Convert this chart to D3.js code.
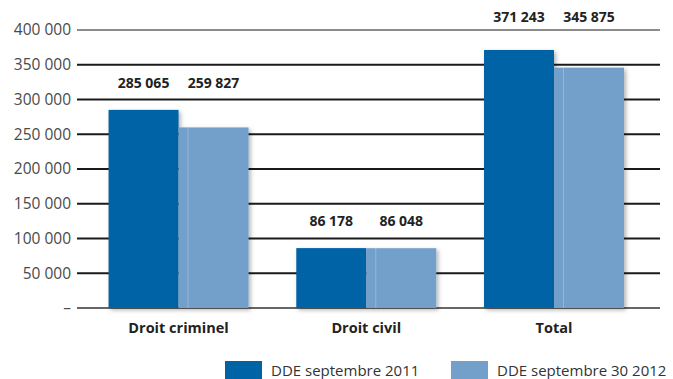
<!DOCTYPE html>
<html><head><meta charset="utf-8">
<script src="https://cdn.jsdelivr.net/npm/d3@7"></script>
<style>body{margin:0;background:#fff}svg{display:block}text{font-family:"Open Sans",sans-serif}</style>
</head><body><svg id="c" width="673" height="379"></svg>
<script>
const categories = ["Droit criminel", "Droit civil", "Total"];
const seriesNames = ["DDE septembre 2011", "DDE septembre 30 2012"];
const values2011 = [285065, 86178, 371243];
const values2012 = [259827, 86048, 345875];
const yTicks = [0, 50000, 100000, 150000, 200000, 250000, 300000, 350000, 400000];
const colors = ["#0063a6", "#72a0ca"];

const svg = d3.select("#c");
const fmt = v => v === 0 ? "–" : d3.format(",")(v).replace(/,/g, " ");

const y = d3.scaleLinear().domain([0, 400000]).range([308, 30]);
const x0 = d3.scaleBand().domain(categories).range([77, 660]).paddingInner(0.2543).paddingOuter(0.18).align(0.467);
const x1 = d3.scaleBand().domain(seriesNames).range([0, x0.bandwidth()]).padding(0);

const defs = svg.append("defs");
const f = defs.append("filter").attr("id", "sh").attr("x", "-10%").attr("y", "-10%").attr("width", "130%").attr("height", "130%");
f.append("feDropShadow").attr("dx", 2).attr("dy", 2).attr("stdDeviation", 2).attr("flood-color", "#000").attr("flood-opacity", 0.3);

// gridlines
const gx0 = 77, gx1 = 660;
svg.append("g").selectAll("line").data(yTicks).join("line")
  .attr("x1", gx0).attr("x2", gx1)
  .attr("y1", d => y(d)).attr("y2", d => y(d))
  .attr("stroke", d => (d === 0 || d === 400000) ? "#666" : "#1a1a1a")
  .attr("stroke-width", d => d === 400000 ? 1.3 : 2);

// y labels
svg.append("g").selectAll("text").data(yTicks).join("text")
  .attr("x", 71).attr("y", d => y(d)).attr("dy", "0.35em")
  .attr("text-anchor", "end").attr("fill", "#4a4a4a").attr("font-size", 15.5)
  .text(fmt);

const data = categories.map((c, i) => ({cat: c, vals: [values2011[i], values2012[i]]}));

const groups = svg.append("g").selectAll("g").data(data).join("g")
  .attr("transform", d => `translate(${x0(d.cat)},0)`);

groups.selectAll("rect.bar").data(d => d.vals.map((v, j) => ({v, s: seriesNames[j], j}))).join("rect")
  .attr("class", "bar")
  .attr("x", d => x1(d.s)).attr("width", x1.bandwidth())
  .attr("y", d => y(d.v)).attr("height", d => y(0) - y(d.v))
  .attr("fill", d => colors[d.j]).attr("filter", "url(#sh)");

// subtle highlight stripe in light bars
groups.selectAll("rect.hl").data(d => [{v: d.vals[1], s: seriesNames[1]}]).join("rect")
  .attr("class", "hl")
  .attr("x", d => x1(d.s) + 9).attr("width", 1)
  .attr("y", d => y(d.v)).attr("height", d => y(0) - y(d.v))
  .attr("fill", "#fff").attr("opacity", 0.25);

// value labels
groups.each(function(d) {
  const m = d3.max(d.vals);
  let ly = y(m) - 22;
  if (ly < y(400000)) ly = y(400000) - 8;
  d3.select(this).selectAll("text.val").data(d.vals.map((v, j) => ({v, s: seriesNames[j]}))).join("text")
    .attr("class", "val")
    .attr("x", e => x1(e.s) + x1.bandwidth() / 2).attr("y", ly)
    .attr("text-anchor", "middle").attr("font-weight", "bold").attr("font-size", 14).attr("fill", "#222")
    .text(e => fmt(e.v));
});

// category labels
svg.append("g").selectAll("text").data(categories).join("text")
  .attr("x", d => x0(d) + x0.bandwidth() / 2).attr("y", 333)
  .attr("text-anchor", "middle").attr("font-weight", "bold").attr("font-size", 14.5).attr("fill", "#222")
  .text(d => d);

// legend
const legX = [225, 451];
const lg = svg.append("g").selectAll("g").data(seriesNames).join("g")
  .attr("transform", (d, i) => `translate(${legX[i]},361)`);
lg.append("rect").attr("width", 37).attr("height", 20).attr("fill", (d, i) => colors[i]);
lg.append("text").attr("x", 46).attr("y", 15).attr("font-size", 15).attr("fill", "#333").text(d => d);
</script></body></html>
